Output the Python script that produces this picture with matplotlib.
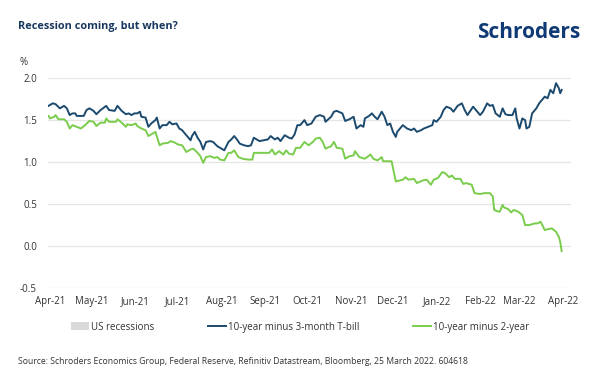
import matplotlib
matplotlib.use("Agg")
import matplotlib.pyplot as plt
from matplotlib.patches import Patch
from matplotlib.lines import Line2D
import pandas as pd

plt.rcParams['font.family'] = ['Open Sans', 'DejaVu Sans']

start_date = "2021-04-01"

# 10-year minus 3-month T-bill (days after 1 Apr 2021, %)
bill_days = [-1, 2, 4, 7, 10, 12, 14, 16, 18, 19, 24, 26, 28, 31, 33, 36, 40, 42, 46, 48,
             51, 54, 56, 58, 60, 62, 64, 65, 68, 70, 72, 75, 76, 78, 80, 83, 85, 87, 90, 92,
             94, 98, 100, 101, 103, 105, 107, 109, 111, 114, 116, 119, 121, 124, 127, 129, 131, 133, 135, 138,
             141, 143, 145, 149, 152, 155, 157, 160, 162, 164, 167, 170, 172, 174, 176, 178, 181, 183, 186, 189,
             192, 195, 196, 200, 202, 204, 208, 210, 213, 216, 218, 221, 223, 224, 227, 229, 231, 233, 236, 238,
             240, 242, 244, 246, 247, 251, 254, 257, 259, 261, 264, 266, 269, 272, 273, 275, 278, 280, 282, 285,
             287, 290, 293, 295, 297, 301, 304, 306, 308, 311, 313, 315, 317, 320, 322, 324, 326, 329, 331, 332,
             334, 336, 338, 339, 341, 343, 346, 348, 352, 354, 356, 358, 360, 362, 363, 364]
bill_vals = [1.67, 1.70, 1.69, 1.64, 1.67, 1.64, 1.56, 1.58, 1.58, 1.55, 1.55, 1.62, 1.64, 1.61, 1.57, 1.62, 1.67, 1.62, 1.61, 1.67,
             1.61, 1.57, 1.58, 1.56, 1.58, 1.58, 1.60, 1.54, 1.53, 1.42, 1.46, 1.50, 1.53, 1.40, 1.44, 1.44, 1.48, 1.45, 1.46, 1.40,
             1.38, 1.30, 1.26, 1.31, 1.36, 1.29, 1.24, 1.15, 1.24, 1.25, 1.24, 1.19, 1.17, 1.14, 1.24, 1.27, 1.31, 1.27, 1.22, 1.20,
             1.19, 1.20, 1.29, 1.25, 1.26, 1.27, 1.31, 1.27, 1.29, 1.25, 1.32, 1.29, 1.28, 1.33, 1.44, 1.44, 1.50, 1.44, 1.46, 1.54,
             1.56, 1.54, 1.48, 1.54, 1.60, 1.61, 1.58, 1.49, 1.51, 1.54, 1.40, 1.44, 1.42, 1.52, 1.55, 1.58, 1.54, 1.51, 1.60, 1.54,
             1.44, 1.46, 1.36, 1.30, 1.36, 1.44, 1.40, 1.38, 1.40, 1.36, 1.38, 1.40, 1.42, 1.44, 1.50, 1.48, 1.54, 1.62, 1.66, 1.64,
             1.60, 1.67, 1.70, 1.62, 1.56, 1.66, 1.60, 1.56, 1.60, 1.70, 1.67, 1.68, 1.58, 1.54, 1.64, 1.57, 1.56, 1.56, 1.64, 1.52,
             1.40, 1.52, 1.50, 1.40, 1.42, 1.58, 1.64, 1.70, 1.78, 1.76, 1.86, 1.82, 1.94, 1.88, 1.82, 1.86]

# 10-year minus 2-year (days after 1 Apr 2021, %)
two_days = [-1, 0, 3, 4, 6, 10, 12, 14, 16, 19, 22, 25, 28, 31, 33, 36, 39, 40, 42, 47,
            48, 51, 54, 55, 58, 61, 62, 65, 68, 70, 72, 75, 78, 80, 84, 86, 89, 91, 94, 97,
            100, 102, 105, 107, 109, 111, 114, 117, 119, 121, 124, 127, 129, 131, 134, 137, 141, 144, 145, 150,
            153, 156, 158, 160, 163, 166, 168, 170, 173, 175, 178, 181, 184, 187, 189, 192, 194, 196, 200, 202,
            204, 208, 210, 213, 216, 217, 220, 224, 228, 230, 233, 236, 237, 240, 243, 246, 251, 253, 255, 259,
            261, 265, 268, 271, 273, 276, 279, 281, 284, 286, 288, 292, 294, 296, 300, 302, 306, 309, 313, 315,
            316, 319, 320, 322, 323, 326, 328, 330, 333, 336, 338, 341, 345, 347, 349, 352, 354, 357, 360, 362,
            363, 364]
two_vals = [1.55, 1.52, 1.54, 1.56, 1.51, 1.51, 1.48, 1.40, 1.44, 1.42, 1.40, 1.44, 1.49, 1.48, 1.43, 1.47, 1.47, 1.52, 1.48, 1.48,
            1.51, 1.47, 1.42, 1.45, 1.44, 1.46, 1.43, 1.40, 1.38, 1.31, 1.33, 1.36, 1.20, 1.22, 1.23, 1.25, 1.23, 1.21, 1.20, 1.12,
            1.15, 1.16, 1.11, 1.07, 0.99, 1.06, 1.07, 1.05, 1.06, 1.03, 1.02, 1.11, 1.11, 1.14, 1.06, 1.04, 1.03, 1.03, 1.11, 1.11,
            1.11, 1.11, 1.15, 1.09, 1.13, 1.09, 1.14, 1.10, 1.09, 1.17, 1.17, 1.24, 1.20, 1.24, 1.28, 1.29, 1.24, 1.16, 1.19, 1.24,
            1.17, 1.16, 1.04, 1.07, 1.08, 1.13, 1.06, 1.04, 1.09, 1.04, 1.02, 1.06, 1.01, 1.01, 1.01, 0.77, 0.79, 0.82, 0.79, 0.80,
            0.75, 0.78, 0.79, 0.73, 0.79, 0.81, 0.88, 0.87, 0.82, 0.84, 0.80, 0.80, 0.74, 0.75, 0.73, 0.63, 0.62, 0.63, 0.63, 0.59,
            0.43, 0.41, 0.41, 0.49, 0.46, 0.44, 0.40, 0.43, 0.41, 0.37, 0.25, 0.25, 0.27, 0.27, 0.29, 0.19, 0.20, 0.21, 0.17, 0.11,
            0.05, -0.06]

month_labels = ["Apr-21", "May-21", "Jun-21", "Jul-21", "Aug-21", "Sep-21", "Oct-21",
                "Nov-21", "Dec-21", "Jan-22", "Feb-22", "Mar-22", "Apr-22"]
y_ticks = [-0.5, 0.0, 0.5, 1.0, 1.5, 2.0]

series_names = ["US recessions", "10-year minus 3-month T-bill", "10-year minus 2-year"]

blue = "#1c4a6e"
green = "#7acc4c"
grey_patch = "#d9d9d9"
navy = "#17375e"

t0 = pd.Timestamp(start_date)
bill_dates = t0 + pd.to_timedelta(bill_days, unit="D")
two_dates = t0 + pd.to_timedelta(two_days, unit="D")
month_dates = pd.date_range(start_date, periods=len(month_labels), freq="MS")

fig = plt.figure(figsize=(6.0, 3.83), dpi=100)
ax = fig.add_axes([0.08, 0.248, 0.872, 0.548])

ax.plot(bill_dates, bill_vals, color=blue, lw=1.4, solid_joinstyle="round", zorder=3)
ax.plot(two_dates, two_vals, color=green, lw=1.4, solid_joinstyle="round", zorder=3)

ax.set_xlim(pd.Timestamp("2021-03-30 14:00"), pd.Timestamp("2022-04-06 19:00"))
ax.set_ylim(-0.5, 2.0)
ax.set_yticks(y_ticks)
ax.set_yticklabels([f"{v:.1f}" for v in y_ticks])
ax.set_xticks(month_dates)
ax.set_xticklabels(month_labels)
ax.grid(axis="y", color="#e6e6e6", lw=0.9, zorder=0)
ax.grid(axis="x", visible=False)
ax.set_axisbelow(True)
for s in ax.spines.values():
    s.set_visible(False)
ax.tick_params(axis="both", length=0, labelsize=7.0, colors="#333333")
ax.tick_params(axis="y", pad=8)
ax.tick_params(axis="x", pad=6)

fig.text(0.03, 0.932, "Recession coming, but when?", fontsize=7.8, fontweight="bold",
         color=navy, ha="left", va="center")
fig.text(0.967, 0.915, "Schroders", fontsize=15, fontweight="bold", color="#0f3a75",
         ha="right", va="center")
fig.text(0.033, 0.838, "%", fontsize=7, color="#333333", ha="left", va="center")

handles = [Patch(facecolor=grey_patch, edgecolor="none"),
           Line2D([0], [0], color=blue, lw=1.4),
           Line2D([0], [0], color=green, lw=1.4)]
fig.legend(handles, series_names, loc="center", bbox_to_anchor=(0.5, 0.146), ncol=3,
           frameon=False, fontsize=7.0, handlelength=1.85, handleheight=0.9, handletextpad=0.2,
           columnspacing=5.5, labelcolor="#333333")

fig.text(0.03, 0.055, "Source: Schroders Economics Group, Federal Reserve, Refinitiv Datastream, Bloomberg, 25 March 2022. 604618",
         fontsize=6.2, color="#333333", ha="left", va="center")

fig.savefig("out.png", dpi=100, facecolor="white")
